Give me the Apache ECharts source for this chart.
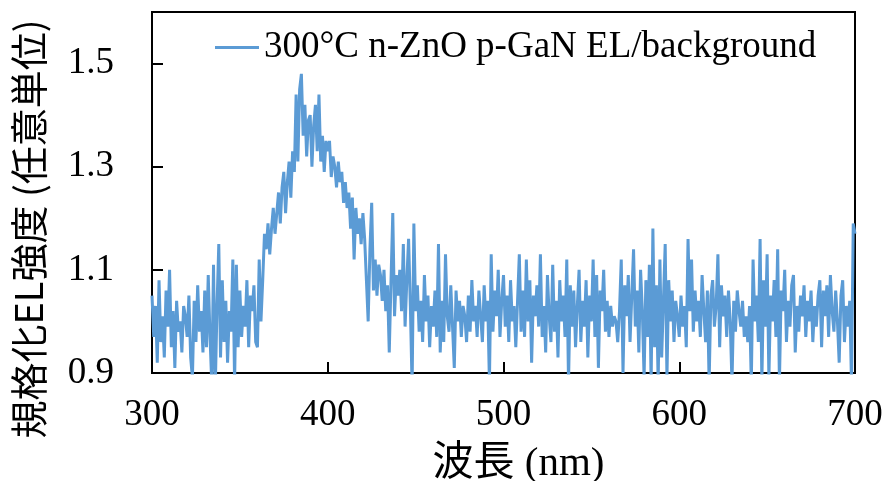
<!DOCTYPE html>
<html>
<head>
<meta charset="utf-8">
<script src="https://cdn.jsdelivr.net/npm/echarts@6/dist/echarts.min.js"></script>
<style>
  html, body { margin: 0; padding: 0; background: #fff; }
  #chart { width: 890px; height: 481px; }
</style>
</head>
<body>
<div id="chart"></div>
<script>
// Wavelength grid: 300-700 nm in 1 nm steps
const startNm = 300;
const stepNm = 1;

// Normalized EL intensity (EL / background), one value per nm
const intensity = [
  1.05, 0.97, 1.03, 0.92, 1.08, 0.96, 1.01, 0.93, 1.06, 0.99,
  1.10, 0.95, 1.02, 0.91, 1.04, 0.98, 1.00, 0.94, 1.03, 1.01,
  0.97, 1.05, 0.93, 0.89, 1.04, 0.96, 1.07, 0.98, 1.02, 0.94,
  1.06, 0.95, 1.09, 0.97, 0.88, 1.11, 0.87, 1.03, 1.15, 0.93,
  1.08, 0.96, 1.04, 0.92, 1.02, 0.98, 1.12, 0.88, 1.11, 0.95,
  1.06, 0.97, 1.03, 0.99, 1.08, 0.95, 1.05, 1.02, 1.07, 0.96,
  0.95, 1.12, 1.00, 1.08, 1.17, 1.14, 1.19, 1.13, 1.18, 1.22,
  1.17, 1.21, 1.25, 1.19, 1.26, 1.29, 1.21, 1.27, 1.31, 1.24,
  1.33, 1.29, 1.44, 1.31, 1.45, 1.48, 1.36, 1.42, 1.32, 1.39,
  1.40, 1.30, 1.38, 1.42, 1.33, 1.44, 1.31, 1.36, 1.29, 1.35,
  1.33, 1.35, 1.28, 1.32, 1.30, 1.26, 1.31, 1.27, 1.29, 1.23,
  1.27, 1.22, 1.25, 1.18, 1.24, 1.12, 1.22, 1.17, 1.20, 1.15,
  1.21, 1.16, 1.08, 1.00, 1.14, 1.23, 1.06, 1.12, 1.05, 1.11,
  1.09, 1.04, 1.10, 1.02, 1.07, 0.94, 1.08, 1.21, 1.01, 1.09,
  1.05, 1.10, 1.02, 1.15, 0.99, 1.08, 1.16, 1.03, 0.87, 1.19,
  1.02, 1.07, 0.98, 1.04, 0.96, 1.09, 1.00, 1.05, 0.95, 1.03,
  0.99, 1.06, 0.97, 1.15, 0.94, 1.04, 0.96, 1.13, 1.01, 0.98,
  1.07, 0.99, 0.91, 1.06, 1.00, 1.04, 0.97, 1.03, 1.01, 0.96,
  1.05, 0.98, 1.08, 1.00, 1.03, 0.97, 1.06, 1.01, 0.96, 1.07,
  1.00, 1.04, 0.88, 1.13, 0.98, 1.06, 1.01, 1.10, 0.97, 1.04,
  1.09, 0.99, 1.05, 0.96, 1.08, 1.00, 1.03, 0.95, 1.04, 1.13,
  0.98, 1.06, 0.97, 1.12, 1.00, 1.08, 0.92, 1.05, 1.01, 1.07,
  0.99, 1.13, 0.97, 1.03, 0.94, 1.09, 1.01, 0.96, 1.11, 0.98,
  1.04, 0.93, 1.08, 1.00, 1.05, 0.97, 1.12, 0.88, 1.07, 0.99,
  1.06, 0.95, 1.03, 1.10, 0.96, 1.04, 0.99, 1.08, 0.93, 1.05,
  1.00, 1.12, 0.97, 1.09, 0.91, 1.06, 1.02, 1.10, 0.98, 1.04,
  0.97, 1.03, 0.99, 1.01, 1.00, 0.96, 1.02, 1.12, 0.90, 1.07,
  1.01, 1.09, 0.96, 1.05, 1.14, 0.99, 1.06, 0.94, 1.10, 1.02,
  0.89, 1.08, 0.97, 1.11, 0.88, 1.18, 0.95, 1.07, 0.88, 1.12,
  0.93, 1.04, 1.15, 0.89, 1.08, 1.00, 1.06, 0.96, 1.04, 1.01,
  0.97, 1.05, 0.99, 1.03, 0.95, 1.16, 1.02, 1.12, 0.98, 1.06,
  1.00, 1.04, 0.97, 1.09, 1.02, 0.96, 1.06, 0.88, 1.05, 1.08,
  0.99, 1.03, 1.13, 0.95, 1.07, 1.01, 1.05, 0.97, 1.06, 1.00,
  0.88, 1.04, 0.98, 1.06, 1.02, 0.99, 1.04, 0.97, 1.01, 0.96,
  1.03, 0.88, 1.12, 1.00, 1.05, 0.96, 1.16, 0.88, 1.08, 0.99,
  1.13, 0.89, 1.05, 1.00, 1.08, 0.97, 1.14, 0.88, 1.06, 1.02,
  1.10, 0.96, 1.04, 0.99, 1.07, 1.09, 0.94, 1.03, 0.98, 1.05,
  1.01, 1.07, 0.97, 1.04, 1.00, 1.06, 0.96, 1.03, 0.99, 1.05,
  1.08, 0.95, 1.06, 1.01, 1.07, 0.97, 1.09, 1.02, 0.98, 1.06,
  1.00, 0.92, 1.05, 1.08, 0.96, 1.03, 0.99, 1.04, 0.88, 1.19,
  1.17
];

// Axis ticks and labels
const xTicks = [300, 400, 500, 600, 700];
const yTicks = [0.9, 1.1, 1.3, 1.5];

const seriesName = '300°C n-ZnO p-GaN EL/background';
const xTitle = '波長 (nm)';
const yTitle = '規格化EL強度 (任意単位)';

const points = intensity.map((v, i) => [startNm + i * stepNm, v]);

const serif = '"Liberation Serif", "Noto Sans CJK JP", serif';

const chart = echarts.init(document.getElementById('chart'), null, { renderer: 'canvas' });
chart.setOption({
  animation: false,
  backgroundColor: '#fff',
  grid: {
    left: 152, right: 35, top: 12, bottom: 108,
    outerBoundsMode: 'none',
    containLabel: false,
    show: true, borderColor: '#000', borderWidth: 2, backgroundColor: 'transparent'
  },
  legend: {
    left: 210, top: 24,
    itemWidth: 44, itemHeight: 3,
    icon: 'rect',
    data: [{ name: seriesName, icon: 'rect' }],
    textStyle: { fontFamily: serif, fontSize: 37, color: '#000', padding: [0, 0, 0, 0] }
  },
  xAxis: {
    type: 'value',
    min: xTicks[0], max: xTicks[xTicks.length - 1], interval: 100,
    axisLine: { show: true, onZero: false, lineStyle: { color: '#000', width: 2 } },
    axisTick: { show: true, inside: true, length: 11, customValues: xTicks,
      lineStyle: { color: '#000', width: 2 } },
    axisLabel: { color: '#000', fontFamily: serif, fontSize: 37, margin: 24,
      customValues: xTicks, formatter: (v) => String(v) },
    splitLine: { show: false },
    name: xTitle,
    nameLocation: 'middle',
    nameGap: 91,
    nameTextStyle: { color: '#000', fontFamily: serif, fontSize: 41, verticalAlign: 'middle',
      padding: [0, 0, 0, 30] }
  },
  yAxis: {
    type: 'value',
    min: 0.9, max: 1.6,
    axisLine: { show: true, onZero: false, lineStyle: { color: '#000', width: 2 } },
    axisTick: { show: true, inside: true, length: 11, customValues: yTicks,
      lineStyle: { color: '#000', width: 2 } },
    axisLabel: { color: '#000', fontFamily: serif, fontSize: 37, margin: 38,
      customValues: yTicks, formatter: (v) => v.toFixed(1) },
    splitLine: { show: false }
  },
  graphic: [{
    type: 'text',
    x: 29, y: 229,
    rotation: Math.PI / 2,
    style: {
      text: yTitle,
      fontFamily: '"Noto Sans CJK JP", sans-serif',
      fontSize: 38,
      fill: '#000',
      align: 'center',
      verticalAlign: 'middle'
    }
  }],
  series: [{
    name: seriesName,
    type: 'line',
    data: points,
    showSymbol: false,
    symbol: 'none',
    clip: true,
    lineStyle: { color: '#5B9BD5', width: 3 },
    itemStyle: { color: '#5B9BD5' }
  }]
});
</script>
</body>
</html>
